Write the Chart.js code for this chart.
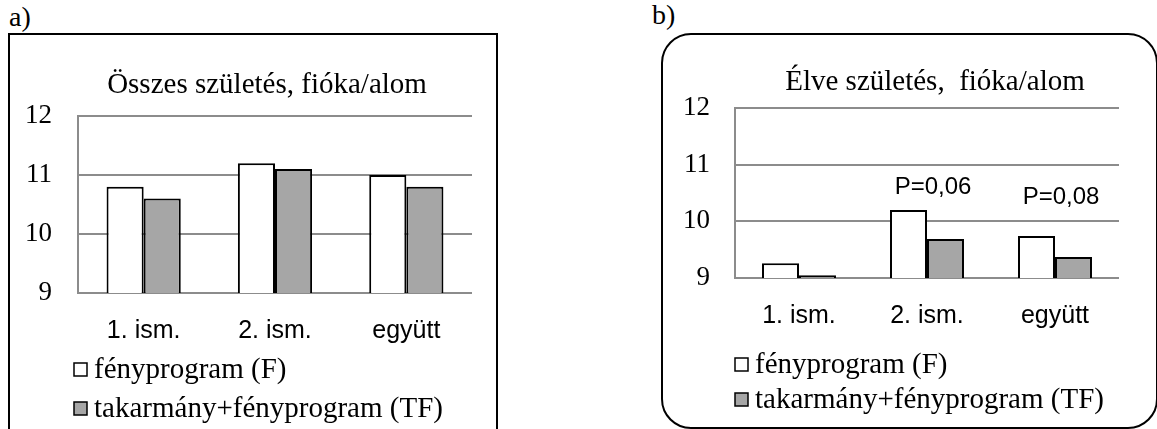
<!DOCTYPE html>
<html>
<head>
<meta charset="utf-8">
<script src="https://cdn.jsdelivr.net/npm/chart.js@4.4.1/dist/chart.umd.min.js"></script>
<style>
  body { margin: 0; background: #fff; width: 1157px; height: 429px; overflow: hidden; position: relative; }
  .lbl { position: absolute; font-family: "Liberation Serif", serif; font-size: 28px; color: #000; line-height: 1; }
  .frame { position: absolute; box-sizing: border-box; border: 2px solid #000; pointer-events: none; }
  canvas { position: absolute; }
</style>
</head>
<body>
<div class="lbl" style="left:9px; top:3px;">a)</div>
<div class="lbl" style="left:652px; top:1px;">b)</div>

<canvas id="chartA" width="488" height="395" style="left:9px; top:34px;"></canvas>
<div class="frame" style="left:8px; top:33px; width:490px; height:420px;"></div>

<canvas id="chartB" width="495" height="394" style="left:662px; top:34px;"></canvas>
<div class="frame" style="left:661px; top:33px; width:497px; height:396px; border-radius:30px;"></div>

<script>
// adatok
const categories = ["1. ism.", "2. ism.", "együtt"];
const seriesNames = ["fényprogram (F)", "takarmány+fényprogram (TF)"];
const yTicks = [9, 10, 11, 12];

// a) összes születés
const osszesF = [10.8, 11.2, 11.0];
const osszesTF = [10.6, 11.1, 10.8];

// b) élve születés
const elveF = [9.26, 10.2, 9.74];
const elveTF = [9.05, 9.69, 9.37];
const pLabels = ["", "P=0,06", "P=0,08"];
const pLabelY = [null, 10.6, 10.43];

const gridColor = "#8c8c8c";

// cím + jelmagyarázat + P értékek rajzolása
const extraText = {
  id: "extraText",
  afterDraw(chart, args, opts) {
    const ctx = chart.ctx;
    ctx.save();
    ctx.fillStyle = "#000";
    ctx.textBaseline = "middle";

    // cím
    ctx.font = "29px 'Liberation Serif'";
    ctx.textAlign = "center";
    ctx.fillText(opts.title, opts.titleX, opts.titleY);

    // jelmagyarázat
    ctx.textAlign = "left";
    chart.data.datasets.forEach((ds, i) => {
      const y = opts.legendY + i * opts.legendGap;
      ctx.fillStyle = ds.backgroundColor;
      ctx.fillRect(opts.legendX, y - 6, 13, 13);
      ctx.strokeStyle = "#000";
      ctx.lineWidth = 1.5;
      ctx.strokeRect(opts.legendX, y - 6, 13, 13);
      ctx.fillStyle = "#000";
      ctx.fillText(ds.label, opts.legendX + 20, y + 1);
    });

    // P értékek
    if (opts.pLabels) {
      const xs = chart.scales.x;
      const ys = chart.scales.y;
      ctx.font = "24px 'Liberation Sans'";
      ctx.textAlign = "center";
      opts.pLabels.forEach((t, i) => {
        if (!t) return;
        ctx.fillText(t, xs.getPixelForValue(i) + 6, ys.getPixelForValue(opts.pLabelY[i]));
      });
    }
    ctx.restore();
  },
};

function makeChart(id, dataF, dataTF, layout, textOpts) {
  return new Chart(document.getElementById(id), {
    type: "bar",
    data: {
      labels: categories,
      datasets: [
        {
          label: seriesNames[0],
          data: dataF,
          backgroundColor: "#ffffff",
          borderColor: "#000",
          borderWidth: 2,
          borderSkipped: "bottom",
        },
        {
          label: seriesNames[1],
          data: dataTF,
          backgroundColor: "#a6a6a6",
          borderColor: "#000",
          borderWidth: 2,
          borderSkipped: "bottom",
        },
      ],
    },
    options: {
      responsive: false,
      animation: false,
      layout: { padding: layout.padding },
      datasets: {
        bar: { barPercentage: 1, categoryPercentage: layout.catPct },
      },
      plugins: {
        legend: { display: false },
        title: { display: false },
        tooltip: { enabled: false },
        extraText: textOpts,
      },
      scales: {
        x: {
          grid: { display: false },
          border: { display: false },
          ticks: {
            color: "#000",
            font: { family: "Liberation Sans", size: 25 },
            padding: layout.xPad,
          },
          afterFit: (s) => { s.height = layout.xHeight; },
        },
        y: {
          min: 9,
          max: 12,
          afterBuildTicks: (s) => { s.ticks = yTicks.map((v) => ({ value: v })); },
          grid: { color: gridColor, lineWidth: 2, drawTicks: false },
          border: { display: true, color: gridColor, width: 2 },
          ticks: {
            color: "#000",
            font: { family: "Liberation Serif", size: 27 },
            padding: layout.yPad,
          },
          afterFit: (s) => { s.width = layout.yWidth; },
        },
      },
    },
    plugins: [extraText],
  });
}

makeChart("chartA", osszesF, osszesTF,
  { padding: { top: 82, right: 25, bottom: 76, left: 0 }, catPct: 0.565, xHeight: 60, xPad: 15, yWidth: 69, yPad: 26 },
  { title: "Összes születés, fióka/alom", titleX: 258, titleY: 51, legendX: 65, legendY: 335, legendGap: 39 });

makeChart("chartB", elveF, elveTF,
  { padding: { top: 74, right: 38, bottom: 90, left: 0 }, catPct: 0.578, xHeight: 60, xPad: 15, yWidth: 73, yPad: 25 },
  { title: "Élve születés,  fióka/alom", titleX: 273, titleY: 48, legendX: 73, legendY: 330, legendGap: 35,
    pLabels: pLabels, pLabelY: pLabelY });
</script>
</body>
</html>
